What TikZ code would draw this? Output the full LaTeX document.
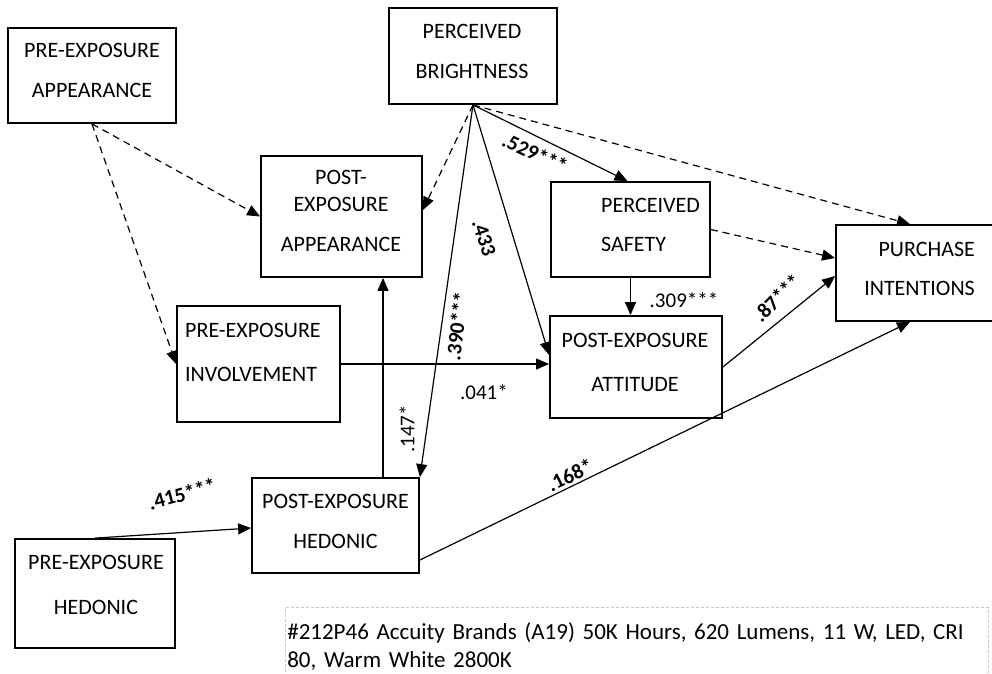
\documentclass[tikz,border=0pt]{standalone}
\usepackage{fontspec}
\setmainfont{Carlito}
\usetikzlibrary{arrows.meta}

\begin{document}
\begin{tikzpicture}[x=1pt, y=-1pt,
    box/.style = {draw, line width=1.8pt, inner sep=0pt},
    txt/.style = {font=\fontsize{22}{22}\selectfont, inner sep=0pt},
    sig/.style = {line width=1.2pt, -{Triangle[length=13pt, width=11pt]}},
    nsig/.style = {sig, dash pattern=on 7pt off 5pt},
    coef/.style = {font=\fontsize{21}{21}\selectfont, inner sep=0pt},
    bcoef/.style = {font=\fontsize{21}{21}\selectfont\bfseries, inner sep=0pt}]
        \useasboundingbox (0,0) rectangle (992,673);
        % boxes
        \node[box, minimum width=168pt, minimum height=95pt] (preapp) at (92,75.5) {};
        \node[box, minimum width=168pt, minimum height=96pt] (bright) at (473,56) {};
        \node[box, minimum width=161pt, minimum height=121pt] (postapp) at (341.5,216.5) {};
        \node[box, minimum width=159pt, minimum height=95pt] (safety) at (630.5,229.5) {};
        \node[box, minimum width=170pt, minimum height=96pt] (purch) at (921,273) {};
        \node[box, minimum width=172pt, minimum height=102pt] (attit) at (636,367) {};
        \node[box, minimum width=163pt, minimum height=116pt] (involv) at (258.5,364) {};
        \node[box, minimum width=167pt, minimum height=95pt] (posthed) at (335.5,525.5) {};
        \node[box, minimum width=160pt, minimum height=109pt] (prehed) at (95,593.5) {};
        % box texts
        \node[txt, align=center] (preapp-t) at (92,70.5) {PRE-EXPOSURE\\[18pt]APPEARANCE};
        \node[txt, align=center] (bright-t) at (472,51.5) {PERCEIVED\\[18pt]BRIGHTNESS};
        \node[txt, align=center] (postapp-t) at (341,211) {POST-\\[5pt]EXPOSURE\\[18pt]APPEARANCE};
        \node[txt, align=left, anchor=west] (safety-t) at (601,225) {PERCEIVED\\[17pt]SAFETY};
        \node[txt, align=right, anchor=east] (purch-t) at (975,269) {PURCHASE\\[17pt]INTENTIONS};
        \node[txt, align=center] (attit-t) at (635,362.5) {POST-EXPOSURE\\[22pt]ATTITUDE};
        \node[txt, align=left, anchor=west] (involv-t) at (185,352.5) {PRE-EXPOSURE\\[22pt]INVOLVEMENT};
        \node[txt, align=center] (posthed-t) at (335.5,521.5) {POST-EXPOSURE\\[18pt]HEDONIC};
        \node[txt, align=center] (prehed-t) at (96,585) {PRE-EXPOSURE\\[23pt]HEDONIC};
        % paths
        \draw[nsig] (preapp.south) -- (postapp.west);
        \draw[nsig] (preapp.south) -- (involv.west);
        \draw[nsig] (bright.south) -- ([yshift=6.5pt]postapp.east);
        \draw[sig] (bright.south) -- (posthed.north east);
        \draw[sig] (bright.south) -- ([yshift=12pt]attit.west);
        \draw[sig] (bright.south) -- ([xshift=-3pt]safety.north);
        \draw[nsig] (bright.south) -- ([xshift=-11pt]purch.north);
        \draw[nsig] (safety.east) -- ([yshift=15pt]purch.west);
        \draw[sig] (safety.south) -- (safety.south |- attit.north);
        \draw[sig] (attit.east) -- ([yshift=-3pt]purch.west);
        \draw[sig] ([yshift=-34.5pt]posthed.east) -- ([xshift=-11pt]purch.south);
        \draw[sig] (involv.east) -- (involv.east -| attit.west);
        \draw[sig] ([xshift=47.5pt]posthed.north) -- ([xshift=47.5pt]posthed.north |- postapp.south);
        \draw[sig] (prehed.north) -- ([yshift=-2.5pt]posthed.west);
        % coefficients
        \node[bcoef, rotate=83] (c390) at (457,326) {.390***};
        \node[bcoef, rotate=-72] (c433) at (484,238) {.433};
        \node[bcoef, rotate=-25] (c529) at (535,153) {.529***};
        \node[coef] (c309) at (684,300) {.309***};
        \node[bcoef, rotate=45] (c87) at (777,298) {.87***};
        \node[coef] (c041) at (484,392) {.041*};
        \node[coef, rotate=90] (c147) at (407,429) {.147*};
        \node[bcoef, rotate=26] (c168) at (570,475) {.168*};
        \node[bcoef, rotate=15] (c415) at (182,494) {.415***};
        % lamp note
        \node[draw=gray!45, dash pattern=on 3pt off 2pt, line width=0.6pt, anchor=north west,
              inner xsep=2pt, inner ysep=15pt, text width=699pt, align=left,
              font=\fontsize{23}{28}\selectfont] (note) at (285,607)
              {\#212P46 Accuity Brands (A19) 50K Hours, 620 Lumens, 11 W, LED, CRI\\80, Warm White 2800K};
      \end{tikzpicture}
\end{document}
